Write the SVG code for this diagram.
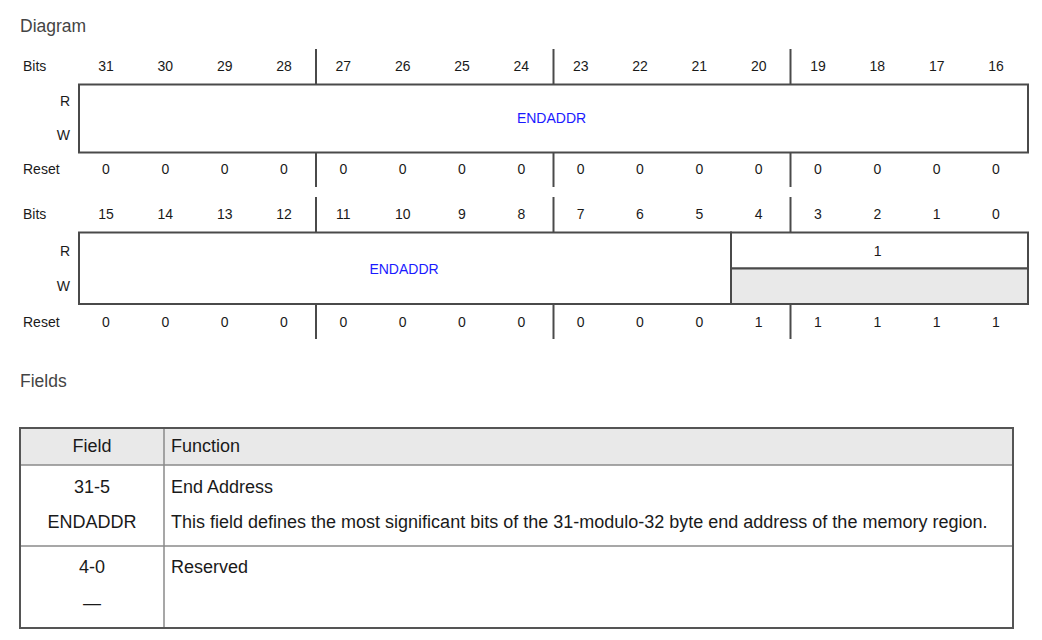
<svg xmlns="http://www.w3.org/2000/svg" width="1042" height="640" viewBox="0 0 1042 640">
<style>
text{font-family:"Liberation Sans",Arial,sans-serif;fill:#1a1a1a}
.h{font-size:17.5px;fill:#444}
.n{font-size:14px;text-anchor:middle}
.l{font-size:14px}
.r{font-size:14px;text-anchor:end}
.f{font-size:14px;text-anchor:middle;fill:#1a1aff}
.t{font-size:18px}
.tc{font-size:18px;text-anchor:middle}
.box{fill:#fff;stroke:#4a4a4a;stroke-width:2}
.gbox{fill:#e9e9e9;stroke:#4a4a4a;stroke-width:2}
.div{stroke:#4a4a4a;stroke-width:2}
.tl{stroke:#8a8a8a;stroke-width:1.5;fill:none}
</style>
<rect width="1042" height="640" fill="#fff"/>
<text class="h" x="20" y="32">Diagram</text>
<text class="h" x="20" y="386.5">Fields</text>

<g id="row1">
<text class="l" x="23" y="70.5">Bits</text>
<text class="n" x="106" y="70.5">31</text><text class="n" x="165.3" y="70.5">30</text><text class="n" x="224.7" y="70.5">29</text><text class="n" x="284" y="70.5">28</text>
<text class="n" x="343.3" y="70.5">27</text><text class="n" x="402.7" y="70.5">26</text><text class="n" x="462" y="70.5">25</text><text class="n" x="521.3" y="70.5">24</text>
<text class="n" x="580.7" y="70.5">23</text><text class="n" x="640" y="70.5">22</text><text class="n" x="699.3" y="70.5">21</text><text class="n" x="758.7" y="70.5">20</text>
<text class="n" x="818" y="70.5">19</text><text class="n" x="877.3" y="70.5">18</text><text class="n" x="936.7" y="70.5">17</text><text class="n" x="996" y="70.5">16</text>
<text class="r" x="70" y="106">R</text>
<text class="r" x="70" y="140">W</text>
<text class="l" x="23" y="174">Reset</text>
<g id="row1-dividers">
<line class="div" x1="316" y1="49" x2="316" y2="84"/><line class="div" x1="553.5" y1="49" x2="553.5" y2="84"/><line class="div" x1="790.5" y1="49" x2="790.5" y2="84"/>
<line class="div" x1="316" y1="152" x2="316" y2="187"/><line class="div" x1="553.5" y1="152" x2="553.5" y2="187"/><line class="div" x1="790.5" y1="152" x2="790.5" y2="187"/>
</g>
<g id="endaddr-hi">
<rect class="box" x="79" y="84.5" width="949" height="68"/>
<text class="f" x="551.5" y="122.5">ENDADDR</text>
</g>
<text class="n" x="106" y="174">0</text><text class="n" x="165.3" y="174">0</text><text class="n" x="224.7" y="174">0</text><text class="n" x="284" y="174">0</text>
<text class="n" x="343.3" y="174">0</text><text class="n" x="402.7" y="174">0</text><text class="n" x="462" y="174">0</text><text class="n" x="521.3" y="174">0</text>
<text class="n" x="580.7" y="174">0</text><text class="n" x="640" y="174">0</text><text class="n" x="699.3" y="174">0</text><text class="n" x="758.7" y="174">0</text>
<text class="n" x="818" y="174">0</text><text class="n" x="877.3" y="174">0</text><text class="n" x="936.7" y="174">0</text><text class="n" x="996" y="174">0</text>
</g>

<g id="row2">
<text class="l" x="23" y="219.3">Bits</text>
<text class="n" x="106" y="219.3">15</text><text class="n" x="165.3" y="219.3">14</text><text class="n" x="224.7" y="219.3">13</text><text class="n" x="284" y="219.3">12</text>
<text class="n" x="343.3" y="219.3">11</text><text class="n" x="402.7" y="219.3">10</text><text class="n" x="462" y="219.3">9</text><text class="n" x="521.3" y="219.3">8</text>
<text class="n" x="580.7" y="219.3">7</text><text class="n" x="640" y="219.3">6</text><text class="n" x="699.3" y="219.3">5</text><text class="n" x="758.7" y="219.3">4</text>
<text class="n" x="818" y="219.3">3</text><text class="n" x="877.3" y="219.3">2</text><text class="n" x="936.7" y="219.3">1</text><text class="n" x="996" y="219.3">0</text>
<text class="r" x="70" y="255.7">R</text>
<text class="r" x="70" y="290.7">W</text>
<text class="l" x="23" y="326.7">Reset</text>
<g id="row2-dividers">
<line class="div" x1="316" y1="197" x2="316" y2="232"/><line class="div" x1="553.5" y1="197" x2="553.5" y2="232"/><line class="div" x1="790.5" y1="197" x2="790.5" y2="232"/>
<line class="div" x1="316" y1="304" x2="316" y2="339"/><line class="div" x1="553.5" y1="304" x2="553.5" y2="339"/><line class="div" x1="790.5" y1="304" x2="790.5" y2="339"/>
</g>
<g id="endaddr-lo">
<rect class="box" x="79" y="232.5" width="652" height="71.5"/>
<text class="f" x="404" y="273.5">ENDADDR</text>
</g>
<g id="reserved">
<rect class="box" x="731" y="232.5" width="297" height="36"/>
<rect class="gbox" x="731" y="268.5" width="297" height="35.5"/>
<text class="n" x="877.7" y="255.7">1</text>
</g>
<text class="n" x="106" y="326.7">0</text><text class="n" x="165.3" y="326.7">0</text><text class="n" x="224.7" y="326.7">0</text><text class="n" x="284" y="326.7">0</text>
<text class="n" x="343.3" y="326.7">0</text><text class="n" x="402.7" y="326.7">0</text><text class="n" x="462" y="326.7">0</text><text class="n" x="521.3" y="326.7">0</text>
<text class="n" x="580.7" y="326.7">0</text><text class="n" x="640" y="326.7">0</text><text class="n" x="699.3" y="326.7">0</text><text class="n" x="758.7" y="326.7">1</text>
<text class="n" x="818" y="326.7">1</text><text class="n" x="877.3" y="326.7">1</text><text class="n" x="936.7" y="326.7">1</text><text class="n" x="996" y="326.7">1</text>
</g>

<g id="fields-table">
<rect x="20" y="428" width="993" height="37" fill="#e9e9e9"/>
<line class="tl" x1="20" y1="465" x2="1013" y2="465"/>
<line class="tl" x1="20" y1="546" x2="1013" y2="546"/>
<line class="tl" x1="164" y1="428" x2="164" y2="628"/>
<rect x="20" y="428" width="993" height="200" fill="none" stroke="#555" stroke-width="2"/>
<text class="tc" x="92" y="451.5">Field</text>
<text class="t" x="171" y="451.5">Function</text>
<text class="tc" x="92" y="492.5">31-5</text>
<text class="tc" x="92" y="527.5">ENDADDR</text>
<text class="t" x="171" y="492.5">End Address</text>
<text class="t" x="171" y="527.5">This field defines the most significant bits of the 31-modulo-32 byte end address of the memory region.</text>
<text class="tc" x="92" y="573.3">4-0</text>
<text class="tc" x="92" y="609">—</text>
<text class="t" x="171" y="573.3">Reserved</text>
</g>
</svg>
